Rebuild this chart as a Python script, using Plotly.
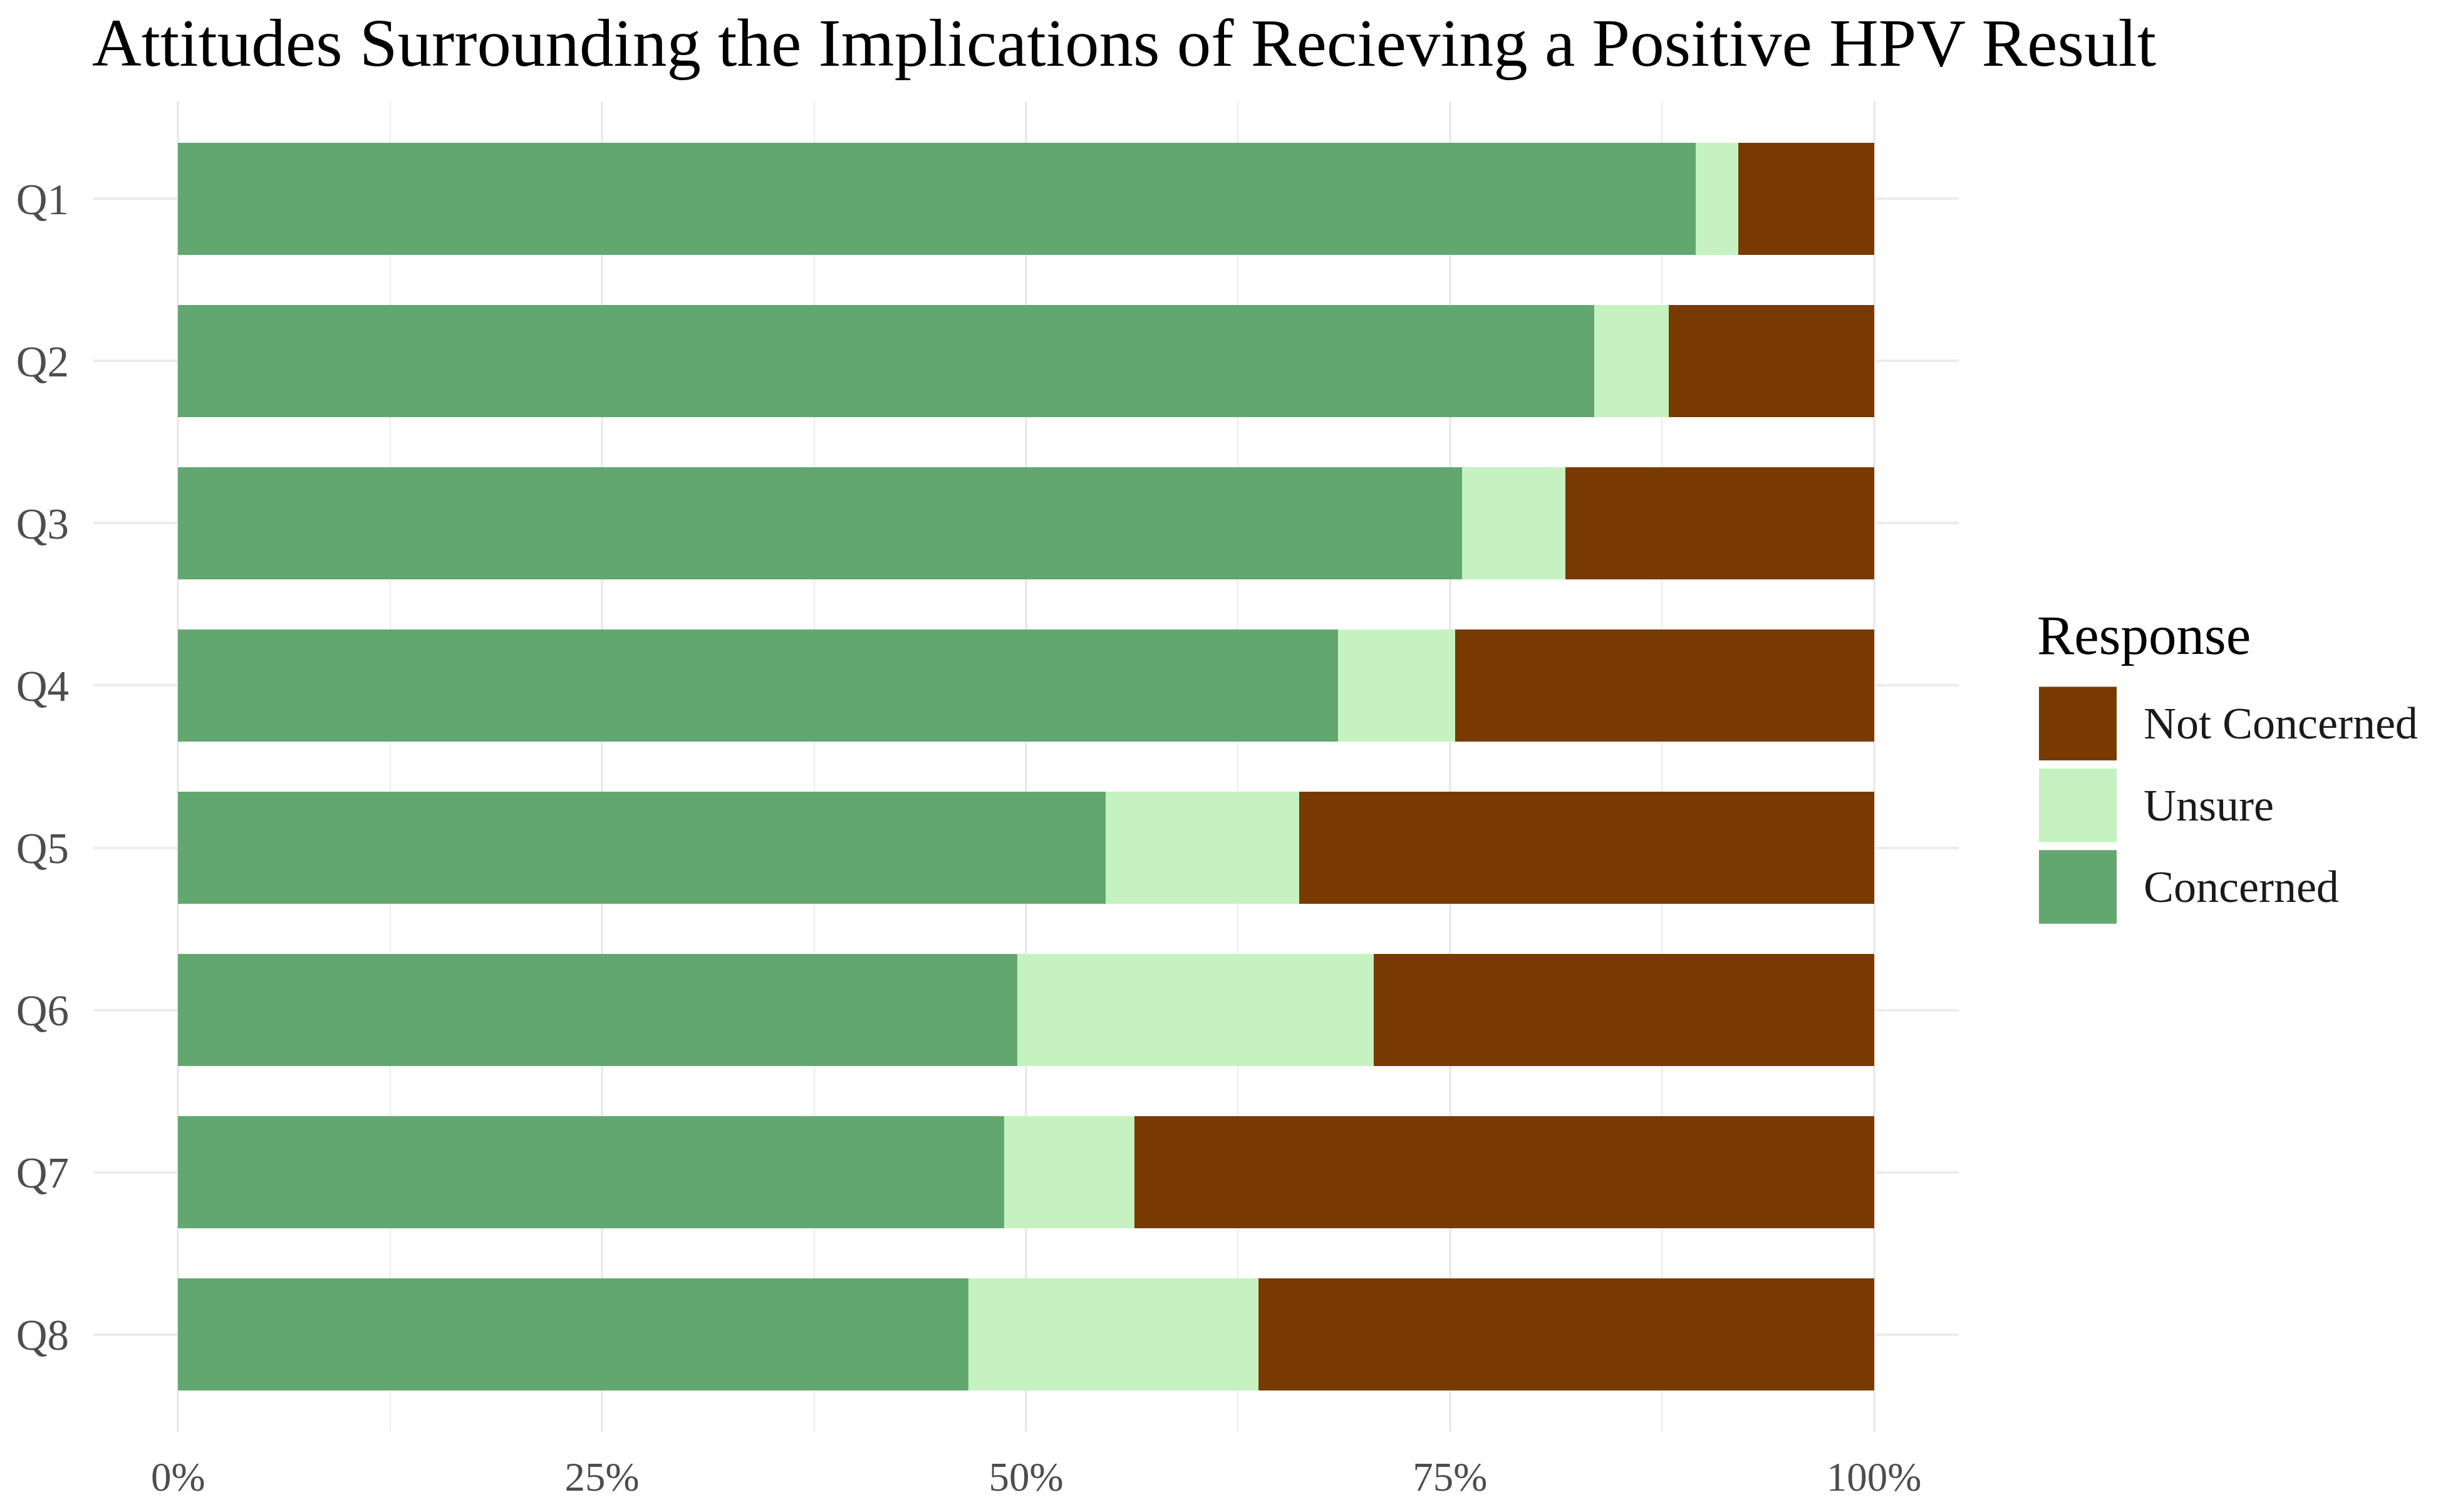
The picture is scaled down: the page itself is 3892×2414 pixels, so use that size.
import plotly.graph_objects as go

questions = ["Q1", "Q2", "Q3", "Q4", "Q5", "Q6", "Q7", "Q8"]
concerned = [0.895, 0.835, 0.757, 0.684, 0.547, 0.495, 0.487, 0.466]
unsure = [0.025, 0.044, 0.061, 0.069, 0.114, 0.210, 0.077, 0.171]
not_concerned = [0.080, 0.121, 0.182, 0.247, 0.339, 0.295, 0.436, 0.363]

series_names = ["Concerned", "Unsure", "Not Concerned"]
series_values = [concerned, unsure, not_concerned]
colors = {"Concerned": "#62A76F", "Unsure": "#C5F2C0", "Not Concerned": "#793A00"}

x_tickvals = [0, 0.25, 0.5, 0.75, 1.0]
x_ticktext = ["0%", "25%", "50%", "75%", "100%"]
x_minorvals = [0.125, 0.375, 0.625, 0.875]

O = 8  # default page body margin
W, H = 3892 - 2 * O, 2414 - 2 * O
L, R, T, B = 149 - O, 3127 - O, 162 - O, 2296 - O
FONT = "Liberation Serif"

fig = go.Figure()
for name, vals in zip(series_names, series_values):
    fig.add_trace(go.Bar(
        y=questions, x=vals, name=name, orientation="h",
        marker=dict(color=colors[name], line=dict(width=0)),
        showlegend=False,
    ))

def px_x(p):
    return (p - O - L) / (R - L)

def px_y(p):
    return (B - (p - O)) / (B - T)

shapes = []
annotations = []
legend_order = ["Not Concerned", "Unsure", "Concerned"]
key_centers = [1160, 1291, 1422]
for name, cy in zip(legend_order, key_centers):
    shapes.append(dict(type="rect", xref="paper", yref="paper",
                       x0=px_x(3255), x1=px_x(3379),
                       y0=px_y(cy + 59), y1=px_y(cy - 59),
                       fillcolor=colors[name], line=dict(width=0), layer="above"))
    annotations.append(dict(text=name, xref="paper", yref="paper",
                            x=px_x(3420), y=px_y(cy), xanchor="left", yanchor="middle",
                            showarrow=False, font=dict(family=FONT, size=72, color="#1A1A1A")))
annotations.append(dict(text="Response", xref="paper", yref="paper",
                        x=px_x(3250), y=px_y(1018), xanchor="left", yanchor="middle",
                        showarrow=False, font=dict(family=FONT, size=89, color="#000000")))
annotations.append(dict(text="Attitudes Surrounding the Implications of Recieving a Positive HPV Result",
                        xref="paper", yref="paper", x=px_x(145), y=px_y(68),
                        xanchor="left", yanchor="middle", showarrow=False,
                        font=dict(family=FONT, size=109, color="#000000")))

fig.update_layout(
    width=W, height=H,
    margin=dict(l=L, r=W - R, t=T, b=H - B, pad=0),
    barmode="stack", bargap=0.31,
    plot_bgcolor="white", paper_bgcolor="white",
    font=dict(family=FONT, color="#4D4D4D"),
    shapes=shapes, annotations=annotations,
)
fig.update_xaxes(
    range=[-0.05, 1.05], tickvals=x_tickvals, ticktext=x_ticktext,
    showgrid=True, gridcolor="#EBEBEB", gridwidth=4, zeroline=False,
    showline=False, ticks="", tickfont=dict(family=FONT, size=65, color="#4D4D4D"),
    ticklabelstandoff=28,
    minor=dict(tickvals=x_minorvals, showgrid=True, gridcolor="#EBEBEB", gridwidth=2, ticks=""),
)
fig.update_yaxes(
    categoryorder="array", categoryarray=questions, range=[7.6, -0.6],
    showgrid=True, gridcolor="#EBEBEB", gridwidth=4, zeroline=False,
    showline=False, ticks="", tickfont=dict(family=FONT, size=69, color="#4D4D4D"),
    ticklabelstandoff=38,
)

fig.write_html("out.html")
